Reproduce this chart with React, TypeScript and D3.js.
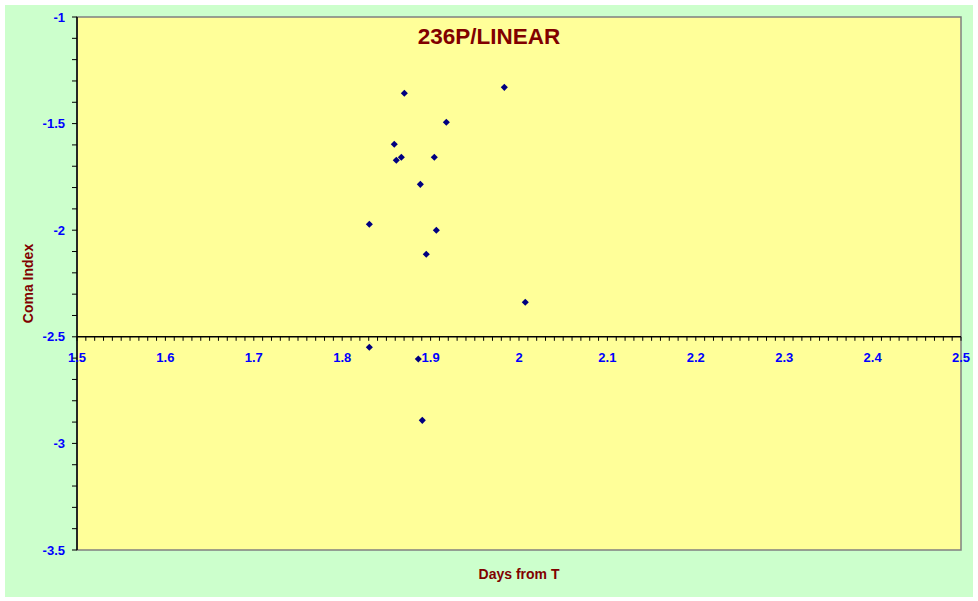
import { useMemo } from "react";
import * as d3 from "d3";

const WIDTH = 978;
const HEIGHT = 601;
const PLOT = { left: 77, top: 17, right: 961, bottom: 550 };

const title = "236P/LINEAR";
const xLabel = "Days from T";
const yLabel = "Coma Index";

// days from T
const days = [
  1.8703, 1.9834, 1.9178, 1.8589, 1.8612, 1.8669, 1.9042, 1.8884, 1.8307,
  1.9065, 1.8951, 2.0071, 1.8307, 1.8861, 1.8906,
];
// coma index
const comaIndex = [
  -1.358, -1.33, -1.494, -1.597, -1.672, -1.658, -1.658, -1.785, -1.972, -2.0,
  -2.113, -2.338, -2.549, -2.604, -2.892,
];

const xTicks = [1.5, 1.6, 1.7, 1.8, 1.9, 2, 2.1, 2.2, 2.3, 2.4, 2.5];
const yTicks = [-1, -1.5, -2, -2.5, -3, -3.5];

const FONT = "'Liberation Sans', Arial, sans-serif";
const TICK_COLOR = "#0000FF";
const LABEL_COLOR = "#800000";

const App = () => {
  const xScale = useMemo(
    () => d3.scaleLinear().domain([1.5, 2.5]).range([PLOT.left, PLOT.right]),
    []
  );
  const yScale = useMemo(
    () => d3.scaleLinear().domain([-1, -3.5]).range([PLOT.top, PLOT.bottom]),
    []
  );

  const axisY = yScale(-2.5);
  const xMinor = d3.range(0, 101).map((i) => 1.5 + i * 0.01);
  const yMinor = d3.range(0, 26).map((i) => -1 - i * 0.1);

  const marker = d3.symbol().type(d3.symbolSquare).size(25)() || "";

  return (
    <svg
      width={WIDTH}
      height={HEIGHT}
      style={{ position: "absolute", left: 0, top: 0, display: "block" }}
    >
      <rect x={0} y={0} width={WIDTH} height={HEIGHT} fill="#ffffff" />
      <rect x={5} y={5} width={968} height={592} fill="#CCFFCC" />
      <rect
        x={PLOT.left}
        y={PLOT.top}
        width={PLOT.right - PLOT.left}
        height={PLOT.bottom - PLOT.top}
        fill="#FFFF99"
        stroke="#808080"
        strokeWidth={1.5}
      />

      {/* y axis */}
      <line
        x1={PLOT.left}
        x2={PLOT.left}
        y1={PLOT.top}
        y2={PLOT.bottom}
        stroke="#000"
        strokeWidth={1.5}
      />
      {yMinor.map((v, i) => (
        <line
          key={"ym" + i}
          x1={PLOT.left - 5}
          x2={PLOT.left}
          y1={yScale(v)}
          y2={yScale(v)}
          stroke="#000"
        />
      ))}
      {yTicks.map((v) => (
        <text
          key={"yt" + v}
          x={PLOT.left - 12}
          y={yScale(v)}
          dy="0.36em"
          textAnchor="end"
          fontFamily={FONT}
          fontWeight="bold"
          fontSize={13}
          fill={TICK_COLOR}
        >
          {v}
        </text>
      ))}

      {/* x axis crossing at -2.5 */}
      <line
        x1={PLOT.left}
        x2={PLOT.right}
        y1={axisY}
        y2={axisY}
        stroke="#000"
        strokeWidth={1.5}
      />
      {xMinor.map((v, i) => (
        <line
          key={"xm" + i}
          x1={xScale(v)}
          x2={xScale(v)}
          y1={axisY}
          y2={axisY + 4}
          stroke="#000"
        />
      ))}
      {xTicks.map((v) => (
        <text
          key={"xt" + v}
          x={xScale(v)}
          y={axisY + 25}
          textAnchor="middle"
          fontFamily={FONT}
          fontWeight="bold"
          fontSize={13}
          fill={TICK_COLOR}
        >
          {v}
        </text>
      ))}

      {/* points */}
      {days.map((d, i) => (
        <path
          key={"p" + i}
          d={marker}
          transform={`translate(${xScale(d)},${yScale(comaIndex[i])}) rotate(45)`}
          fill="#000080"
        />
      ))}

      <text
        x={489}
        y={44}
        textAnchor="middle"
        fontFamily={FONT}
        fontWeight="bold"
        fontSize={22.5}
        fill={LABEL_COLOR}
      >
        {title}
      </text>
      <text
        x={(PLOT.left + PLOT.right) / 2}
        y={579}
        textAnchor="middle"
        fontFamily={FONT}
        fontWeight="bold"
        fontSize={14}
        fill={LABEL_COLOR}
      >
        {xLabel}
      </text>
      <text
        transform={`translate(33,${(PLOT.top + PLOT.bottom) / 2}) rotate(-90)`}
        textAnchor="middle"
        fontFamily={FONT}
        fontWeight="bold"
        fontSize={14}
        fill={LABEL_COLOR}
      >
        {yLabel}
      </text>
    </svg>
  );
};

export default App;
